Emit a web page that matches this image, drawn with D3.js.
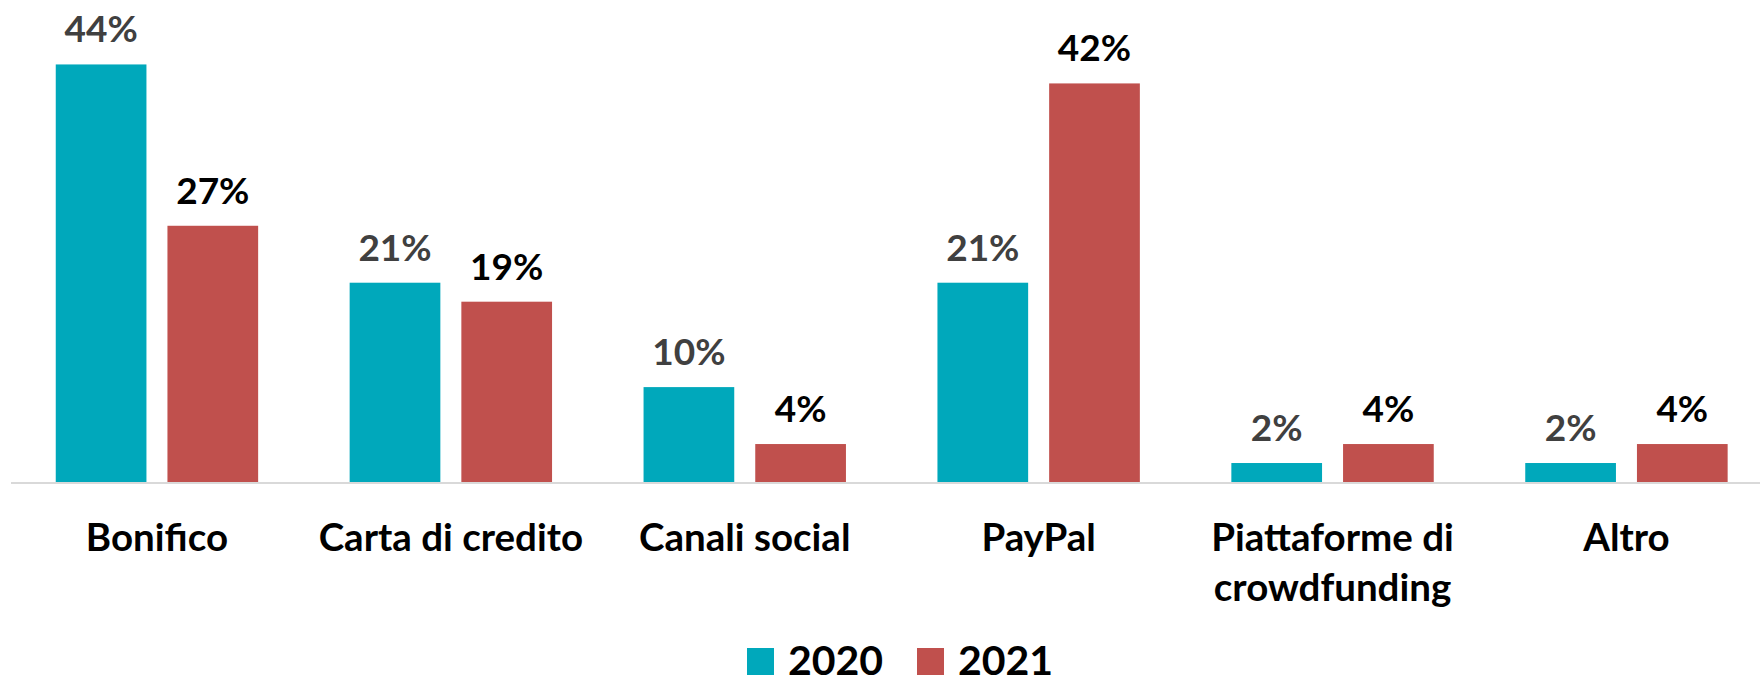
<!DOCTYPE html>
<html>
<head>
<meta charset="utf-8">
<script src="https://cdnjs.cloudflare.com/ajax/libs/d3/7.8.5/d3.min.js"></script>
<style>
  body { margin: 0; background: #ffffff; }
  svg { display: block; font-family: Lato, "Open Sans", sans-serif; font-weight: bold; }
</style>
</head>
<body>
<div id="chart"></div>
<script>
// data
var categories = ["Bonifico", "Carta di credito", "Canali social", "PayPal", "Piattaforme di crowdfunding", "Altro"];
var categoryLines = [["Bonifico"], ["Carta di credito"], ["Canali social"], ["PayPal"], ["Piattaforme di", "crowdfunding"], ["Altro"]];
var seriesNames = ["2020", "2021"];
var values2020 = [44, 21, 10, 21, 2, 2];
var values2021 = [27, 19, 4, 42, 4, 4];
var seriesColors = ["#00a8bb", "#c0504d"];
var labelColors = ["#404040", "#000000"];

// set the dimensions of the graph
var width = 1760,
    height = 683,
    baseline = 482;

var svg = d3.select("#chart").append("svg")
  .attr("width", width)
  .attr("height", height);

// set the ranges
var x0 = d3.scaleBand()
  .domain(categories)
  .range([10, 1773.4])
  .padding(0);

var groupWidth = 202.4;
var x1 = d3.scaleBand()
  .domain(seriesNames)
  .range([0, groupWidth])
  .paddingInner(0.188)
  .paddingOuter(0);

var y = d3.scaleLinear()
  .domain([0, 50])
  .range([baseline, baseline - 474.5]);

// build rows for every bar
var rows = [];
categories.forEach(function(c, i) {
  rows.push({cat: c, s: 0, value: values2020[i]});
  rows.push({cat: c, s: 1, value: values2021[i]});
});

function barX(d) {
  return x0(d.cat) + (x0.bandwidth() - groupWidth) / 2 + x1(seriesNames[d.s]);
}

// axis line
svg.append("line")
  .attr("x1", 11)
  .attr("x2", width)
  .attr("y1", baseline + 1)
  .attr("y2", baseline + 1)
  .attr("stroke", "#d9d9d9")
  .attr("stroke-width", 2);

// bars
svg.selectAll("rect.bar")
  .data(rows)
  .enter().append("rect")
  .attr("class", "bar")
  .attr("x", barX)
  .attr("y", function(d) { return y(d.value); })
  .attr("width", x1.bandwidth())
  .attr("height", function(d) { return baseline - y(d.value); })
  .attr("fill", function(d) { return seriesColors[d.s]; });

// value labels
svg.selectAll("text.value")
  .data(rows)
  .enter().append("text")
  .attr("class", "value")
  .attr("x", function(d) { return barX(d) + x1.bandwidth() / 2; })
  .attr("y", function(d) { return y(d.value) - 22; })
  .attr("text-anchor", "middle")
  .style("font-size", "37px")
  .attr("fill", function(d) { return labelColors[d.s]; })
  .text(function(d) { return d.value + "%"; });

// category labels
var catLabels = svg.selectAll("text.cat")
  .data(categories)
  .enter().append("text")
  .attr("class", "cat")
  .attr("x", function(d) { return x0(d) + x0.bandwidth() / 2; })
  .attr("y", 551)
  .attr("text-anchor", "middle")
  .style("font-size", "38.5px")
  .attr("fill", "#000000");

catLabels.each(function(d, i) {
  var t = d3.select(this);
  var cx = x0(d) + x0.bandwidth() / 2;
  categoryLines[i].forEach(function(line, j) {
    t.append("tspan")
      .attr("x", cx)
      .attr("dy", j === 0 ? 0 : 50)
      .text(line);
  });
});

// legend
var legendX = [747, 917];
var legend = svg.selectAll("g.legend")
  .data(seriesNames)
  .enter().append("g")
  .attr("class", "legend")
  .attr("transform", function(d, i) { return "translate(" + legendX[i] + ",0)"; });

legend.append("rect")
  .attr("x", 0)
  .attr("y", 648)
  .attr("width", 27)
  .attr("height", 27)
  .attr("fill", function(d, i) { return seriesColors[i]; });

legend.append("text")
  .attr("x", 41)
  .attr("y", 675)
  .style("font-size", "41px")
  .attr("fill", "#000000")
  .text(function(d) { return d; });
</script>
</body>
</html>
